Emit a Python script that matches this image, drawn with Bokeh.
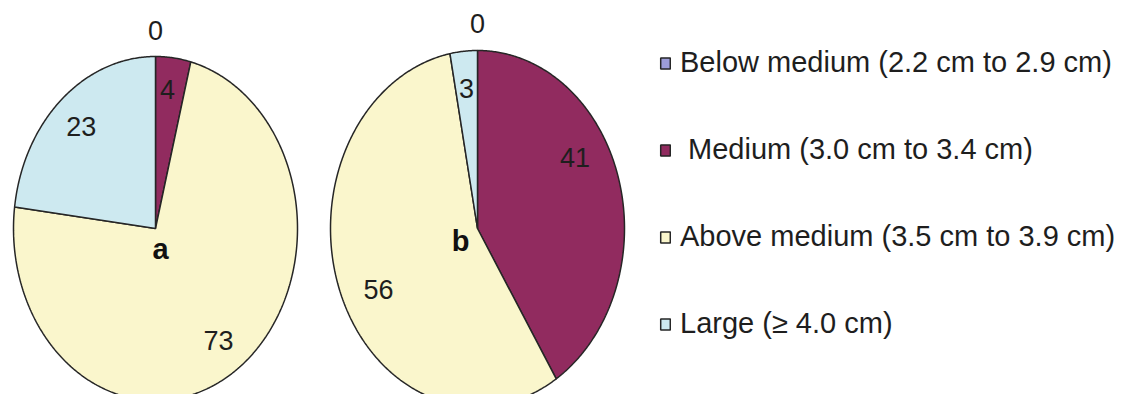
import numpy as np
from bokeh.plotting import figure
from bokeh.models import Range1d, Legend, LegendItem, ColumnDataSource
from bokeh.core.properties import value
from bokeh.embed import file_html
from bokeh.resources import INLINE

# ---------------- data ----------------
categories = [
    "Below medium (2.2 cm to 2.9 cm)",
    " Medium (3.0 cm to 3.4 cm)",
    "Above medium (3.5 cm to 3.9 cm)",
    "Large (\u2265 4.0 cm)",
]
panel_labels = ["a", "b"]
values_a = [0, 4, 73, 23]
values_b = [0, 41, 56, 3]
colors = ["#9d9dd9", "#912b5f", "#faf6cc", "#cde9f0"]

# ---------------- layout / style ----------------
W, H = 1115, 394
FONT = "Liberation Sans"
pies = [
    # (values, cx, cy, rx, ry, panel label offset)
    (values_a, 155, 228, 142, 172, (5, 20)),
    (values_b, 477, 228, 147, 178, (-17, 12)),
]
# small pixel nudges for individual value labels (pie index, slice index)
label_nudges = {(1, 1): (-14, -32), (1, 2): (9, 9), (0, 1): (-2, -4)}

p = figure(width=W, height=H, x_range=Range1d(0, W), y_range=Range1d(H, 0),
           output_backend="svg", toolbar_location=None, min_border=0)
p.axis.visible = False
p.grid.visible = False
p.outline_line_color = None
p.background_fill_color = "white"
p.border_fill_color = "white"


def wedge(cx, cy, rx, ry, a0, a1):
    n = max(2, int(np.degrees(a1 - a0) * 2) + 2)
    t = np.linspace(a0, a1, n)
    xs = [cx] + list(cx + rx * np.sin(t))
    ys = [cy] + list(cy - ry * np.cos(t))
    return xs, ys


renderers = []
for ci, cat in enumerate(categories):
    xs_all, ys_all = [], []
    for vals, cx, cy, rx, ry, _ in pies:
        total = float(sum(vals))
        start = 2 * np.pi * sum(vals[:ci]) / total
        end = start + 2 * np.pi * vals[ci] / total
        xs, ys = wedge(cx, cy, rx, ry, start, end)
        xs_all.append(xs)
        ys_all.append(ys)
    src = ColumnDataSource(dict(xs=xs_all, ys=ys_all))
    r = p.patches("xs", "ys", source=src, fill_color=colors[ci],
                  line_color="#262626", line_width=1.5)
    renderers.append(r)

# value labels
lx, ly, lt = [], [], []
for pi, (vals, cx, cy, rx, ry, _) in enumerate(pies):
    total = float(sum(vals))
    cum = 0.0
    for si, v in enumerate(vals):
        mid = 2 * np.pi * (cum + v / 2.0) / total
        rf = 0.79 if v > 0 else 1.15
        dx, dy = label_nudges.get((pi, si), (0, 0))
        lx.append(cx + rx * rf * np.sin(mid) + dx)
        ly.append(cy - ry * rf * np.cos(mid) + dy)
        lt.append(str(v))
        cum += v
p.text(x=lx, y=ly, text=lt, text_font=value(FONT), text_font_size="27px",
       text_color="#1e1e1e", text_align="center", text_baseline="middle")

# panel labels
px = [cx + off[0] for _, cx, _, _, _, off in pies]
py = [cy + off[1] for _, _, cy, _, _, off in pies]
p.text(x=px, y=py, text=panel_labels, text_font=value(FONT), text_font_size="29px",
       text_font_style="bold", text_color="#111111", text_align="center",
       text_baseline="middle")

legend = Legend(
    items=[LegendItem(label=c, renderers=[r]) for c, r in zip(categories, renderers)],
    location=(659, 54),
    orientation="vertical",
    glyph_width=12, glyph_height=14,
    label_text_font=FONT, label_text_font_size="29px", label_text_color="#1e1e1e",
    label_standoff=9, spacing=54, padding=0, margin=0,
    border_line_color=None, background_fill_alpha=0,
)
p.add_layout(legend)

open("out.html", "w").write(file_html(p, INLINE))
